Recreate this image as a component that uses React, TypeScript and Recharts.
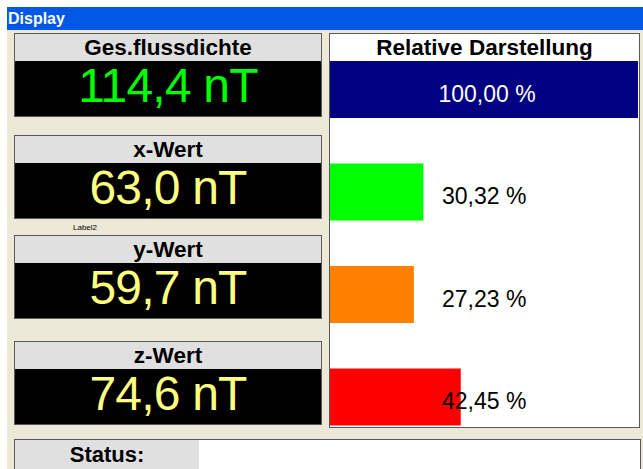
import React from "react";
import { BarChart, Bar, XAxis, YAxis, Cell, LabelList } from "recharts";

// ---- data ----
const panelTitles = ["Ges.flussdichte", "x-Wert", "y-Wert", "z-Wert"];
const panelValues = [114.4, 63.0, 59.7, 74.6];
const panelUnit = "nT";
const relCategories = ["gesamt", "x", "y", "z"];
const relPercent = [100.0, 30.32, 27.23, 42.45];
const chartTitle = "Relative Darstellung";
const windowTitle = "Display";
const statusLabel = "Status:";
const smallLabel = "Label2";

// ---- styles ----
const FONT = '"Liberation Sans", Arial, sans-serif';
const barColors = ["#000080", "#00FF00", "#FF8000", "#FF0000"];
const valueColors = ["#00FF00", "#FFFF80", "#FFFF80", "#FFFF80"];
const panelTops = [33, 135, 235, 341];

const fmtNum = (v: number, d: number) => v.toFixed(d).replace(".", ",");

const chartData = relCategories.map((c, i) => ({ name: c, value: relPercent[i] }));

const BarLabel = (props: any) => {
  const { x, y, width, height, value, index } = props;
  const cy = y + height / 2 + 4;
  const text = `${fmtNum(value, 2)} %`;
  if (index === 0) {
    return (
      <text x={x + width / 2 + 3} y={cy} fill="#FFFFFF" fontSize={23} fontFamily={FONT}
        textAnchor="middle" dominantBaseline="central">{text}</text>
    );
  }
  return (
    <text x={x + 112} y={cy} fill="#000000" fontSize={23} fontFamily={FONT}
      textAnchor="start" dominantBaseline="central">{text}</text>
  );
};

const Panel = ({ i }: { i: number }) => (
  <div style={{
    position: "absolute", left: 14, top: panelTops[i], width: 306, height: 82,
    border: "1px solid #5a5a5a", background: "#000",
  }}>
    <div style={{
      height: 27, background: "#E0E0E0", display: "flex", alignItems: "center",
      justifyContent: "center", fontFamily: FONT, fontWeight: "bold", fontSize: 22.5, color: "#000",
    }}>{panelTitles[i]}</div>
    <div style={{
      height: 55, display: "flex", alignItems: "center", justifyContent: "center",
      fontFamily: FONT, fontSize: 48, letterSpacing: "-0.8px", color: valueColors[i],
      paddingBottom: 6, boxSizing: "border-box",
    }}>{`${fmtNum(panelValues[i], 1)} ${panelUnit}`}</div>
  </div>
);

export default function App() {
  return (
    <div style={{ position: "absolute", left: 0, top: 0, width: 643, height: 469, background: "#fff", overflow: "hidden" }}>
      {/* title bar */}
      <div style={{
        position: "absolute", left: 7, top: 7, width: 636, height: 23, background: "#0058E6",
        color: "#fff", fontFamily: FONT, fontWeight: "bold", fontSize: 16, lineHeight: "23px",
        paddingLeft: 1, boxSizing: "border-box",
      }}>{windowTitle}</div>
      {/* body */}
      <div style={{ position: "absolute", left: 7, top: 30, width: 636, height: 439, background: "#ECE9D8" }} />

      {[0, 1, 2, 3].map((i) => <Panel key={i} i={i} />)}

      <div style={{
        position: "absolute", left: 73, top: 223, fontFamily: FONT, fontSize: 8, color: "#000",
      }}>{smallLabel}</div>

      {/* right panel */}
      <div style={{
        position: "absolute", left: 329, top: 33, width: 309, height: 393,
        border: "1px solid #5a5a5a", background: "#fff",
      }}>
        <div style={{
          height: 27, display: "flex", alignItems: "center", justifyContent: "center",
          fontFamily: FONT, fontWeight: "bold", fontSize: 22.5, color: "#000",
        }}>{chartTitle}</div>
      </div>

      {/* status */}
      <div style={{
        position: "absolute", left: 14, top: 439, width: 625, height: 40,
        border: "1px solid #5a5a5a", background: "#fff", display: "flex",
      }}>
        <div style={{
          width: 184, height: 30, background: "#E0E0E0", display: "flex", alignItems: "center",
          justifyContent: "center", fontFamily: FONT, fontWeight: "bold", fontSize: 22, color: "#000",
        }}>{statusLabel}</div>
      </div>

      {/* chart */}
      <div style={{ position: "absolute", left: 330, top: 38 }}>
        <BarChart width={308} height={410} data={chartData} layout="vertical"
          margin={{ top: 0, right: 0, bottom: 0, left: 0 }}>
          <XAxis type="number" domain={[0, 100]} hide />
          <YAxis type="category" dataKey="name" hide />
          <Bar dataKey="value" barSize={57} isAnimationActive={false}>
            {chartData.map((d, i) => <Cell key={d.name} fill={barColors[i]} />)}
            <LabelList dataKey="value" content={BarLabel} />
          </Bar>
        </BarChart>
      </div>
    </div>
  );
}
